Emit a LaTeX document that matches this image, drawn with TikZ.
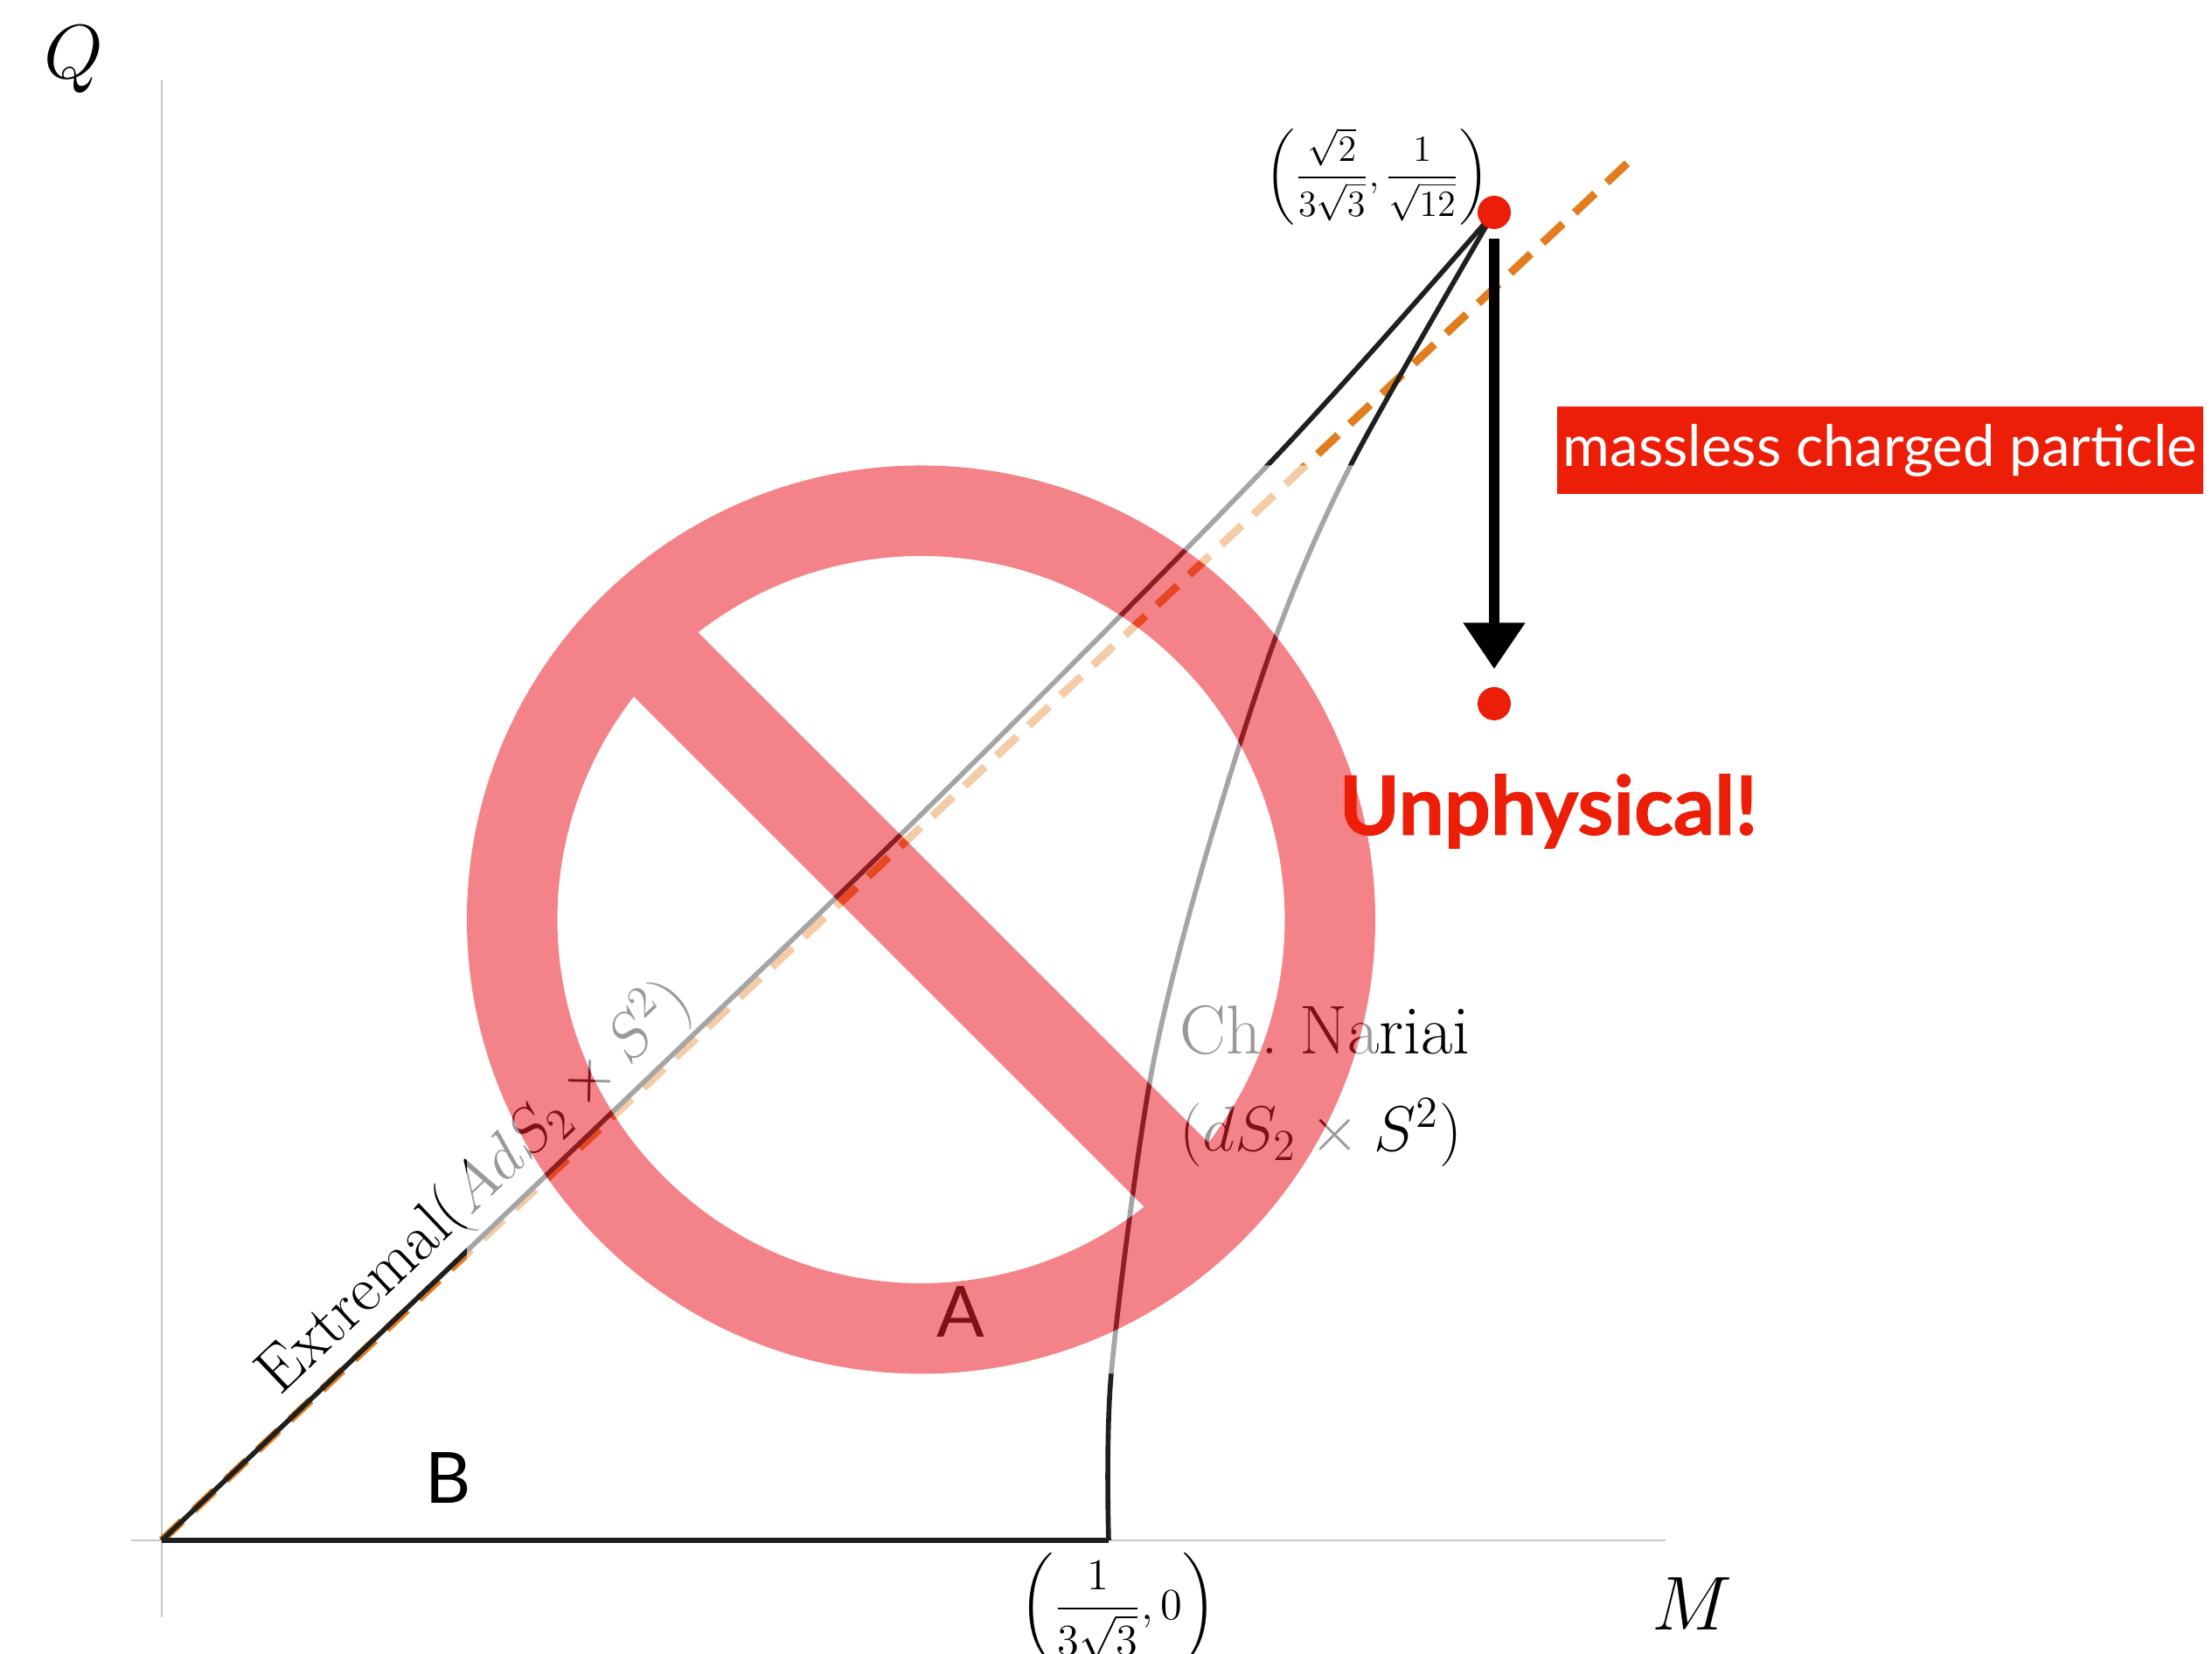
\documentclass[tikz,border=0pt]{standalone}
\usepackage{amsmath,amssymb}
\usepackage{fontspec}
\newfontfamily\labelfont{Lato}
\newfontfamily\heavyfont[BoldFeatures={FakeBold=1.2}]{Lato}
\usetikzlibrary{arrows.meta,positioning}
\definecolor{ringred}{RGB}{235,30,40}
\definecolor{markred}{RGB}{236,30,8}
\definecolor{dashorange}{RGB}{226,125,30}
\newcommand{\mathlabel}[1]{\fontsize{#1}{#1}\selectfont}
% outer disc plus the two pieces left open by the bar
\newcommand{\ringshape}{(10.535,8.40) circle (5.195)
  (10.535,8.40) ++(-37.82:4.16) arc[start angle=-37.82, end angle=127.82, radius=4.16] -- cycle
  (10.535,8.40) ++(142.18:4.16) arc[start angle=142.18, end angle=307.82, radius=4.16] -- cycle}
\tikzset{
  axisline/.style={line width=0.7pt, black!22},
  curveline/.style={line width=1.6pt, black!88},
  reddot/.style={circle, fill=markred, minimum size=0.38cm, inner sep=0pt},
  letterlabel/.style={font=\labelfont\fontsize{23}{23}\selectfont}
}
\begin{document}
\begin{tikzpicture}
  \useasboundingbox (0,0) rectangle (25.30,18.92);
  % axes
  \coordinate (O) at (1.85,1.30);
  \coordinate (corner) at (12.68,1.30);
  \coordinate (apex) at (17.09,16.49);
  \coordinate (dashend) at (18.62,17.06);
  \draw[axisline] (1.85,0.42) -- (1.85,18.00);
  \draw[axisline] (1.50,1.30) -- (19.05,1.30);
  % dashed bound below the curves
  \draw[dashorange, line width=2.6pt, dash pattern=on 0.32cm off 0.184cm] (O) -- (dashend);
  % boundary of the shark fin
  \draw[curveline] (O) -- (corner);
  \draw[curveline] plot[smooth] coordinates {(1.85,1.30) (5.34,4.61) (10.33,9.40) (14.52,13.62) (17.09,16.49)};
  \draw[curveline] plot[smooth] coordinates {(12.68,1.30) (12.71,3.21) (13.15,6.54) (13.73,8.92) (14.59,11.63) (15.46,13.62) (17.09,16.49)};
  % labels
  \node (Qlabel) at (0.84,18.24) {\mathlabel{57}$Q$};
  \node (Mlabel) at (19.35,0.57) {\mathlabel{58}$M$};
  \node[rotate=43.5] (extremal) at (5.43,5.33) {\mathlabel{21}Extremal($AdS_2\times S^2$)};
  \node[anchor=west] (nariai) at (13.37,7.13) {\mathlabel{22.5}Ch.\ Nariai};
  \node[anchor=west] (dsfactor) at (13.37,5.96) {\mathlabel{21.3}$(dS_2\times S^2)$};
  \node (apexlabel) at (15.75,16.90) {\mathlabel{13}$\left(\dfrac{\sqrt{2}}{3\sqrt{3}},\dfrac{1}{\sqrt{12}}\right)$};
  \node (cornerlabel) at (12.79,0.52) {\mathlabel{15}$\left(\dfrac{1}{3\sqrt{3}},0\right)$};
  \node[letterlabel] (Alabel) at (10.99,3.91) {A};
  \node[letterlabel] (Blabel) at (5.13,2.01) {B};
  % white veil over the square of the sign, then the sign
  \fill[white, opacity=0.6, even odd rule] (5.34,3.205) rectangle (15.73,13.595) \ringshape;
  \fill[ringred, opacity=0.55, even odd rule] \ringshape;
  % the particle shift
  \node[reddot] (topdot) at (apex) {};
  \node[reddot] (lowdot) at (17.09,10.87) {};
  \draw[-{Triangle[length=0.53cm, width=0.68cm]}, line width=0.12cm, shorten <=0.1cm, shorten >=0.2cm] (topdot) -- (lowdot);
  \node[fill=markred, text=white, minimum width=7.39cm, minimum height=1.0cm, inner sep=0pt, font=\labelfont\fontsize{18.6}{18.6}\selectfont] (massless) at (21.505,13.77) {massless charged particle};
  \node[text=markred, inner sep=0pt, font=\heavyfont\bfseries\fontsize{26.5}{26.5}\selectfont] (unphysical) at (17.71,9.64) {Unphysical!};
\end{tikzpicture}
\end{document}
